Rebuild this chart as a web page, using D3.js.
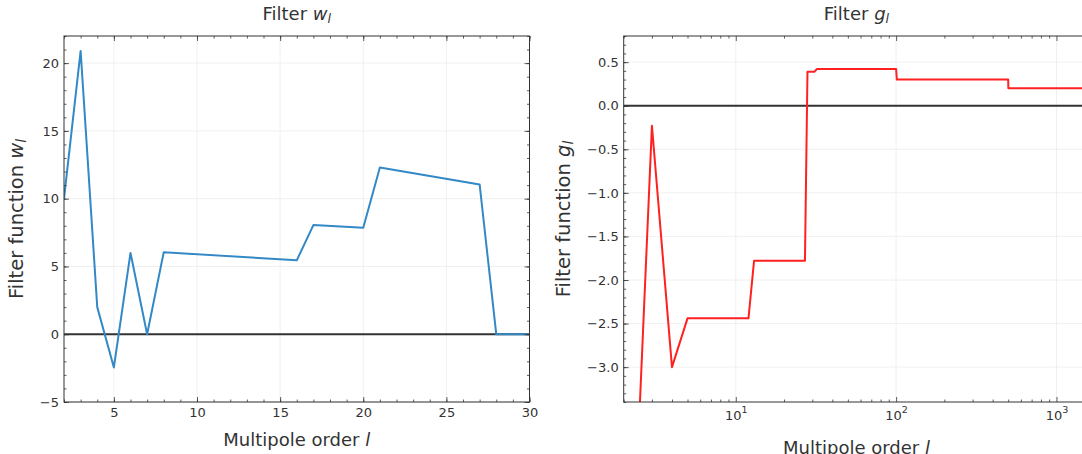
<!DOCTYPE html>
<html>
<head>
<meta charset="utf-8">
<script src="https://cdn.jsdelivr.net/npm/d3@7"></script>
<style>
  body { margin: 0; background: #fff; }
  text { font-family: "DejaVu Sans", sans-serif; fill: #333; }
</style>
</head>
<body>
<svg id="chart" width="1082" height="454"></svg>
<script>

// filter w_l (linear axis)
var wOrder = [2, 3, 4, 5, 6, 7, 8, 16, 17, 20, 21, 27, 28, 29, 30]
var wValue = [10, 20.9, 2, -2.45, 6, 0, 6.05, 5.45, 8.05, 7.85, 12.3, 11.05, 0, 0, 0]
var wTicksX = [5, 10, 15, 20, 25, 30]
var wTicksY = [-5, 0, 5, 10, 15, 20]

// filter g_l (log axis)
var gOrder = [2, 3, 4, 5, 12, 13, 27, 28, 31, 32, 100, 101, 500, 501, 1600]
var gValue = [-7.7, -0.23, -3.0, -2.44, -2.44, -1.78, -1.78, 0.39, 0.39, 0.42, 0.42, 0.3, 0.3, 0.2, 0.2]
var gTicksX = [10, 100, 1000]
var gTicksY = [0.5, 0, -0.5, -1, -1.5, -2, -2.5, -3]

var svg = d3.select("#chart")
// note: "top" is taken by window.top, so use plotTop
var plotTop = 36, height = 366, width = 465.5

// text with italic symbol + subscript, e.g. "Filter " w _l
function mathText(sel, plain, sym, sub) {
  sel.append("tspan").text(plain)
  sel.append("tspan").attr("font-style", "italic").text(sym)
  if (sub) {
    sel.append("tspan").attr("font-style", "italic").attr("font-size", "70%").attr("dy", "0.25em").text(sub)
  }
}

function drawPanel(p) {
  var g = svg.append("g").attr("transform", `translate(${p.left},${plotTop})`)
  var x = p.x, y = p.y

  // faint grid
  g.selectAll(".gx").data(p.ticksX).enter().append("line")
    .attr("x1", d => x(d)).attr("x2", d => x(d)).attr("y1", 0).attr("y2", height)
    .attr("stroke", "#ececec").attr("stroke-width", 0.8)
  g.selectAll(".gy").data(p.ticksY).enter().append("line")
    .attr("y1", d => y(d)).attr("y2", d => y(d)).attr("x1", 0).attr("x2", width)
    .attr("stroke", "#ececec").attr("stroke-width", 0.8)

  var clipId = "clip" + p.name
  g.append("clipPath").attr("id", clipId).append("rect").attr("width", width).attr("height", height)

  var plot = g.append("g").attr("clip-path", `url(#${clipId})`)

  // zero line
  plot.append("line")
    .attr("x1", 0).attr("x2", width).attr("y1", y(0)).attr("y2", y(0))
    .attr("stroke", "#333").attr("stroke-width", 2)

  var line = d3.line().x((d, i) => x(p.order[i])).y(d => y(d))
  plot.append("path").datum(p.values)
    .attr("d", line)
    .attr("fill", "none")
    .attr("stroke", p.color)
    .attr("stroke-width", 2)
    .attr("stroke-linejoin", "round")

  // ticks, all pointing inward; labels only bottom / left
  var axes = [
    [d3.axisBottom, `translate(0,${height})`, x, true, true],
    [d3.axisTop, "translate(0,0)", x, true, false],
    [d3.axisLeft, "translate(0,0)", y, false, true],
    [d3.axisRight, `translate(${width},0)`, y, false, false]
  ]
  axes.forEach(function (a) {
    var isX = a[3], showLabels = a[4]
    var ax = g.append("g").attr("transform", a[1])
    ax.call(a[0](a[2]).tickValues(isX ? p.minorX : p.minorY)
      .tickSizeInner(-2.5).tickSizeOuter(0).tickFormat(""))
    ax.select(".domain").remove()

    var fmt = showLabels ? (isX ? p.fmtX : p.fmtY) : ""
    var ax2 = g.append("g").attr("transform", a[1])
    ax2.call(a[0](a[2]).tickValues(isX ? p.ticksX : p.ticksY)
      .tickSizeInner(-5).tickSizeOuter(0).tickPadding(isX ? p.padX : 5).tickFormat(fmt))
    ax2.select(".domain").remove()

    ax.selectAll("line").attr("stroke", "#333").attr("stroke-width", 0.8)
    ax2.selectAll("line").attr("stroke", "#333").attr("stroke-width", 0.8)
    ax2.selectAll("text").attr("font-size", 13).attr("fill", "#333")
    if (showLabels && isX && p.logLabels) {
      ax2.selectAll("text").each(function (d) {
        var t = d3.select(this).text("10")
        t.append("tspan").attr("font-size", 9.5).attr("dy", "-0.75em").text(Math.round(Math.log10(d)))
      })
    }
  })

  g.append("rect").attr("width", width).attr("height", height)
    .attr("fill", "none").attr("stroke", "#333").attr("stroke-width", 1)

  // titles
  svg.append("text").attr("x", p.left + width / 2).attr("y", 20)
    .attr("text-anchor", "middle").attr("font-size", 18)
    .call(mathText, "Filter ", p.name, "l")
  svg.append("text").attr("x", p.left + width / 2).attr("y", p.xLabelY)
    .attr("text-anchor", "middle").attr("font-size", 18)
    .call(mathText, "Multipole order ", "l", null)
  svg.append("text")
    .attr("transform", `translate(${p.left - p.yLabelOff},${plotTop + height / 2}) rotate(-90)`)
    .attr("text-anchor", "middle").attr("font-size", 19.5)
    .call(mathText, "Filter function ", p.name, "l")
}

function buildW() {
  var x = d3.scaleLinear().domain([2, 30]).range([0, width])
  var y = d3.scaleLinear().domain([-5, 22]).range([height, 0])
  drawPanel({
    name: "w", left: 64, x: x, y: y,
    order: wOrder, values: wValue, color: "#3388c6",
    ticksX: wTicksX, ticksY: wTicksY,
    minorX: d3.range(2, 31), minorY: d3.range(-5, 23),
    fmtX: d3.format("d"), fmtY: d3.format("d"), padX: 6,
    xLabelY: 446, yLabelOff: 41
  })
}

function buildG() {
  var x = d3.scaleLog().domain([2, 1600]).range([0, width])
  var y = d3.scaleLinear().domain([-3.4, 0.8]).range([height, 0])
  var minorX = []
  ;[1, 10, 100, 1000].forEach(function (dec) {
    for (var k = 2; k <= 9; k++) if (dec * k >= 2 && dec * k <= 1600) minorX.push(dec * k)
  })
  drawPanel({
    name: "g", left: 623.7, x: x, y: y,
    order: gOrder, values: gValue, color: "#ff2020",
    ticksX: gTicksX, ticksY: gTicksY,
    minorX: minorX, minorY: d3.range(-34, 9).map(v => v / 10),
    fmtX: d => d, fmtY: d3.format(".1f"), logLabels: true, padX: 9,
    xLabelY: 454, yLabelOff: 54
  })
}

buildW()
buildG()

</script>
</body>
</html>
